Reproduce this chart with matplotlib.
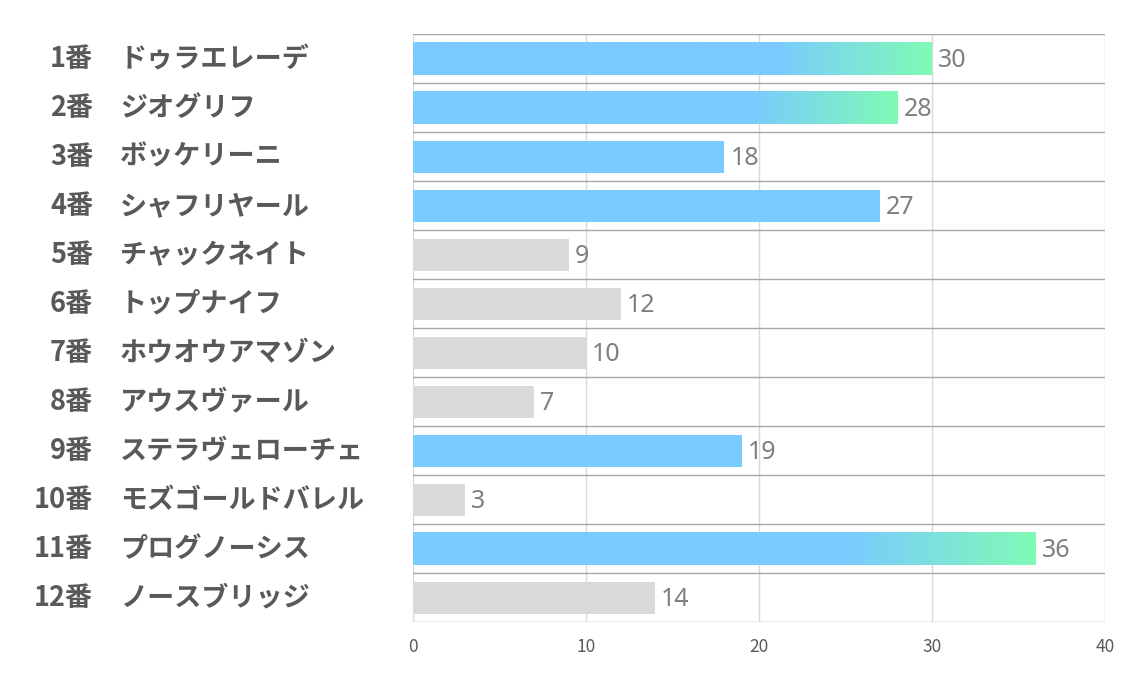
import matplotlib
matplotlib.use('Agg')
import matplotlib.pyplot as plt
import numpy as np
from matplotlib.colors import LinearSegmentedColormap
from matplotlib.transforms import offset_copy

plt.rcParams['font.family'] = ['Noto Sans CJK JP', 'DejaVu Sans']

# data
numbers = ['1番', '2番', '3番', '4番', '5番', '6番', '7番', '8番', '9番', '10番', '11番', '12番']
names = ['ドゥラエレーデ', 'ジオグリフ', 'ボッケリーニ', 'シャフリヤール', 'チャックネイト',
         'トップナイフ', 'ホウオウアマゾン', 'アウスヴァール', 'ステラヴェローチェ',
         'モズゴールドバレル', 'プログノーシス', 'ノースブリッジ']
values = [30, 28, 18, 27, 9, 12, 10, 7, 19, 3, 36, 14]
highlight = [True, True, True, True, False, False, False, False, True, False, True, False]
gradient = [True, True, False, False, False, False, False, False, False, False, True, False]
xticks = [0, 10, 20, 30, 40]

blue = '#7ACBFF'
green = '#80FAB6'
gray = '#D9D9D9'
grad_cmap = LinearSegmentedColormap.from_list('bg', [(0, blue), (0.7, blue), (1, green)])

fig = plt.figure(figsize=(11.34, 6.8), dpi=100)
ax = fig.add_axes([0.3642, 0.0846, 0.6102, 0.8647])

n = len(values)
y = np.arange(n)
h = 0.67

# grid first
for xv in xticks:
    ax.axvline(xv, color='#d9d9d9', lw=1, zorder=0)
for b in np.arange(n + 1) - 0.5:
    ax.axhline(b, color='#a6a6a6', lw=1, zorder=1)

colors = [blue if hl else gray for hl in highlight]
ax.barh(y, values, height=h, color=colors, zorder=2)

ramp = np.linspace(0, 1, 256).reshape(1, -1)
for yi, v, g in zip(y, values, gradient):
    if g:
        ax.imshow(ramp, cmap=grad_cmap, aspect='auto', interpolation='bilinear',
                  extent=[0, v, yi + h / 2, yi - h / 2], zorder=3)

val_tr = offset_copy(ax.transData, fig=fig, x=6, y=-2, units='dots')
for yi, v in zip(y, values):
    ax.text(v, yi, str(v), transform=val_tr, ha='left', va='center',
            fontsize=18, color='#7f7f7f', family=['Noto Sans', 'DejaVu Sans'])

ytr = ax.get_yaxis_transform()
for yi, num, nm in zip(y, numbers, names):
    ax.text(-0.4624, yi, num, transform=ytr, ha='right', va='center',
            fontsize=19.5, fontweight='bold', color='#595959')
    ax.text(-0.4234, yi, nm, transform=ytr, ha='left', va='center',
            fontsize=19.5, fontweight='bold', color='#595959')

ax.set_xlim(0, 40)
ax.set_ylim(n - 0.5, -0.5)
ax.set_xticks(xticks)
ax.set_xticklabels([str(t) for t in xticks], fontsize=12.5, color='#595959')
ax.tick_params(axis='x', length=0, pad=11)
ax.set_yticks([])
for s in ax.spines.values():
    s.set_visible(False)

fig.savefig('out.png', dpi=100, facecolor='white')
